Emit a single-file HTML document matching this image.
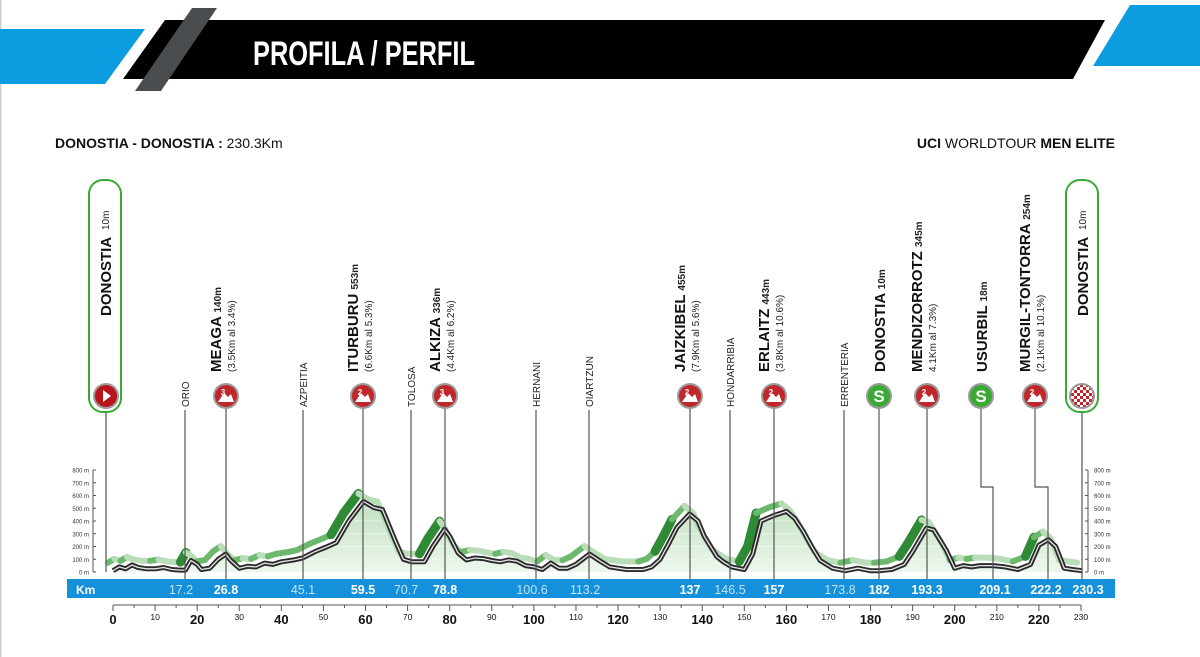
<!DOCTYPE html>
<html><head><meta charset="utf-8"><style>
html,body{margin:0;padding:0;background:#fff;width:1200px;height:657px;overflow:hidden}
svg{display:block}
text{font-family:"Liberation Sans",sans-serif}
.n{font-weight:bold;font-size:15px;fill:#111}
.s{font-size:10px;fill:#222}
.t{font-size:10px;fill:#222}
</style></head><body>
<svg id="c" width="1200" height="657" viewBox="0 0 1200 657" xmlns="http://www.w3.org/2000/svg">
<defs>
<linearGradient id="gf" x1="0" y1="0" x2="0" y2="1"><stop offset="0" stop-color="#bfe0bf"/><stop offset="1" stop-color="#eef7ee"/></linearGradient>
<pattern id="chk" width="6" height="6" patternUnits="userSpaceOnUse"><rect width="6" height="6" fill="#fff"/><rect width="3" height="3" fill="#c0272d"/><rect x="3" y="3" width="3" height="3" fill="#c0272d"/></pattern>
</defs>
<rect x="0" y="0" width="1.5" height="657" fill="#d0d0d0"/>
<polygon points="0,29 145,29 105,84 0,84" fill="#0b9de0"/>
<polygon points="165,20 1105,20 1073,79 123,79" fill="#000"/>
<polygon points="192,8 217,8 161,91 135,91" fill="#4a4d50"/>
<polygon points="1130,5 1200,5 1200,66 1093,66" fill="#0b9de0"/>
<text x="253" y="65" fill="#fff" font-size="34" font-weight="bold" textLength="222" lengthAdjust="spacingAndGlyphs">PROFILA / PERFIL</text>
<text x="55" y="148" font-size="14" fill="#111"><tspan font-weight="bold">DONOSTIA - DONOSTIA :</tspan> 230.3Km</text>
<text x="1115" y="148" font-size="14" fill="#111" text-anchor="end"><tspan font-weight="bold">UCI</tspan> WORLDTOUR <tspan font-weight="bold">MEN ELITE</tspan></text>

<g id="axes" stroke="#555" stroke-width="1"></g>
<g id="prof"></g>

<g stroke="#555" stroke-width="1.2" fill="none">
<line x1="106" y1="412" x2="106" y2="572"/>
<line x1="185" y1="410" x2="185" y2="579"/>
<line x1="226" y1="409" x2="226" y2="579"/>
<line x1="303" y1="410" x2="303" y2="579"/>
<line x1="363" y1="409" x2="363" y2="579"/>
<line x1="411" y1="410" x2="411" y2="579"/>
<line x1="445" y1="409" x2="445" y2="579"/>
<line x1="536" y1="410" x2="536" y2="579"/>
<line x1="589" y1="410" x2="589" y2="579"/>
<line x1="690" y1="409" x2="690" y2="579"/>
<line x1="730" y1="410" x2="730" y2="579"/>
<line x1="774" y1="409" x2="774" y2="579"/>
<line x1="844" y1="410" x2="844" y2="579"/>
<line x1="879" y1="409" x2="879" y2="579"/>
<line x1="927" y1="409" x2="927" y2="579"/>
<polyline points="981,409 981,487 993,487 993,579"/>
<polyline points="1035,409 1035,487 1048,487 1048,579"/>
<line x1="1082" y1="412" x2="1082" y2="579"/>
</g>

<rect x="89" y="180" width="32" height="232" rx="14" fill="#fff" stroke="#3aaa35" stroke-width="2"/>
<rect x="1066" y="180" width="32" height="232" rx="14" fill="#fff" stroke="#3aaa35" stroke-width="2"/>
<g transform="translate(111,316) rotate(-90)"><text class="n" font-size="19" x="0" y="0">DONOSTIA</text></g>
<g transform="translate(109,230) rotate(-90)"><text class="s" x="0" y="0">10m</text></g>
<g transform="translate(1088,316) rotate(-90)"><text class="n" font-size="19" x="0" y="0">DONOSTIA</text></g>
<g transform="translate(1086,230) rotate(-90)"><text class="s" x="0" y="0">10m</text></g>

<g id="mk"></g>

<g transform="translate(189,407) rotate(-90)"><text class="t">ORIO</text></g>
<g transform="translate(307,407) rotate(-90)"><text class="t">AZPEITIA</text></g>
<g transform="translate(415,407) rotate(-90)"><text class="t">TOLOSA</text></g>
<g transform="translate(540,407) rotate(-90)"><text class="t">HERNANI</text></g>
<g transform="translate(593,407) rotate(-90)"><text class="t">OIARTZUN</text></g>
<g transform="translate(734,407) rotate(-90)"><text class="t">HONDARRIBIA</text></g>
<g transform="translate(848,407) rotate(-90)"><text class="t">ERRENTERIA</text></g>

<g transform="translate(221,372) rotate(-90)"><text class="n">MEAGA <tspan class="s">140m</tspan></text><text class="s" y="14">(3.5Km al 3.4%)</text></g>
<g transform="translate(358,372) rotate(-90)"><text class="n">ITURBURU <tspan class="s">553m</tspan></text><text class="s" y="14">(6.6Km al 5.3%)</text></g>
<g transform="translate(440,372) rotate(-90)"><text class="n">ALKIZA <tspan class="s">336m</tspan></text><text class="s" y="14">(4.4Km al 6.2%)</text></g>
<g transform="translate(685,372) rotate(-90)"><text class="n">JAIZKIBEL <tspan class="s">455m</tspan></text><text class="s" y="14">(7.9Km al 5.6%)</text></g>
<g transform="translate(769,372) rotate(-90)"><text class="n">ERLAITZ <tspan class="s">443m</tspan></text><text class="s" y="14">(3.8Km al 10.6%)</text></g>
<g transform="translate(885,372) rotate(-90)"><text class="n">DONOSTIA <tspan class="s">10m</tspan></text></g>
<g transform="translate(922,372) rotate(-90)"><text class="n">MENDIZORROTZ <tspan class="s">345m</tspan></text><text class="s" y="14">4.1Km al 7.3%)</text></g>
<g transform="translate(987,372) rotate(-90)"><text class="n">USURBIL <tspan class="s">18m</tspan></text></g>
<g transform="translate(1030,372) rotate(-90)"><text class="n">MURGIL-TONTORRA <tspan class="s">254m</tspan></text><text class="s" y="14">(2.1Km al 10.1%)</text></g>

<rect x="67" y="579" width="1048" height="19" fill="#1590db"/>
<text x="76" y="594" fill="#fff" font-size="12" font-weight="bold">Km</text>
<g font-size="12.5" text-anchor="middle">
<text x="181" y="594" fill="#bfe3f7">17.2</text>
<text x="226" y="594" fill="#fff" font-weight="bold">26.8</text>
<text x="303" y="594" fill="#bfe3f7">45.1</text>
<text x="363" y="594" fill="#fff" font-weight="bold">59.5</text>
<text x="406" y="594" fill="#bfe3f7">70.7</text>
<text x="445" y="594" fill="#fff" font-weight="bold">78.8</text>
<text x="532" y="594" fill="#bfe3f7">100.6</text>
<text x="585" y="594" fill="#bfe3f7">113.2</text>
<text x="690" y="594" fill="#fff" font-weight="bold">137</text>
<text x="730" y="594" fill="#bfe3f7">146.5</text>
<text x="774" y="594" fill="#fff" font-weight="bold">157</text>
<text x="840" y="594" fill="#bfe3f7">173.8</text>
<text x="879" y="594" fill="#fff" font-weight="bold">182</text>
<text x="927" y="594" fill="#fff" font-weight="bold">193.3</text>
<text x="995" y="594" fill="#fff" font-weight="bold">209.1</text>
<text x="1046" y="594" fill="#fff" font-weight="bold">222.2</text>
<text x="1088" y="594" fill="#fff" font-weight="bold">230.3</text>
</g>
<g id="xax"></g>
</svg>
<script>
var NS="http://www.w3.org/2000/svg";
function el(p,t,a,txt){var e=document.createElementNS(NS,t);for(var k in a)e.setAttribute(k,a[k]);if(txt!=null)e.textContent=txt;p.appendChild(e);return e;}
function X(k){return 113+k*968/230;}
function Y(m){return 572-m*0.1275;}
var d=[[0,10],[1.5,40],[3,25],[4.5,55],[6,35],[8,25],[10,25],[12,35],[14,20],[16,15],[17.2,15],[18.5,90],[20,60],[21,20],[23,30],[25,100],[26.8,140],[28,90],[30,30],[32,45],[34,40],[36,70],[38,60],[40,80],[43,95],[45,110],[48,160],[51,200],[53,230],[56,400],[59.5,553],[62,505],[64,490],[67,250],[69,100],[71,80],[74,80],[76,200],[78.8,336],[80,280],[82,150],[84,95],[86,110],[88,105],[90,90],[92,80],[94,95],[96,85],[98,50],[100,40],[102,20],[104,70],[106,30],[108,30],[110,60],[113.2,140],[116,80],[118,40],[120,30],[122,20],[126,20],[128,40],[130,100],[132,220],[134,350],[137,455],[139,400],[140.5,280],[142,200],[143.5,120],[145,80],[147,40],[150,20],[152,140],[154,400],[157,443],[160,475],[162,420],[164,320],[166,200],[168,90],[171,30],[174,10],[177,30],[180,10],[182,10],[185,20],[188,60],[190,160],[193.3,345],[195,330],[198,170],[200,30],[202,50],[204,40],[206,50],[209.1,50],[212,40],[215,20],[218,60],[220,210],[222.2,254],[224,200],[226,30],[228,20],[230.3,10]];
var pts=d.map(function(p){return X(p[0]).toFixed(1)+","+Y(p[1]).toFixed(1)});
var g=document.getElementById("prof");
el(g,"polygon",{points:X(0)+",572 "+pts.join(" ")+" "+X(230.3)+",572",fill:"url(#gf)"});
for(var i=1;i<8;i++)el(g,"line",{x1:113,x2:1081,y1:Y(i*100),y2:Y(i*100),stroke:"#fff","stroke-opacity":"0.5"});
// shifted band, colored by slope
for(var i=1;i<d.length;i++){
 var a=d[i-1],b=d[i],sl=(b[1]-a[1])/(b[0]-a[0]);
 var col=sl>40?"#2f8a35":(sl>0?"#6cb86c":"#b9dcb9");
 el(g,"line",{x1:X(a[0])-5,y1:Y(a[1])-8,x2:X(b[0])-5,y2:Y(b[1])-8,stroke:col,"stroke-width":sl>40?9:6,"stroke-linecap":"round"});
}
el(g,"polyline",{points:pts.join(" "),fill:"none",stroke:"#2a2a2a","stroke-width":"5","stroke-linejoin":"round"});
el(g,"polyline",{points:pts.join(" "),fill:"none",stroke:"#e6e6e6","stroke-width":"1.3","stroke-linejoin":"round"});
var ax=document.getElementById("axes");
[[93,"end"],[1088,"start"]].forEach(function(s){
 el(ax,"line",{x1:s[0],x2:s[0],y1:470,y2:572});
 for(var i=0;i<=8;i++){var y=Y(i*100);el(ax,"line",{x1:s[0],x2:s[0]+(s[1]=="end"?3:-3),y1:y,y2:y});
 el(ax,"text",{x:s[1]=="end"?s[0]-4:s[0]+6,y:y+2.5,"font-size":"6","text-anchor":s[1]=="end"?"end":"start",fill:"#333",stroke:"none"},(i*100)+" m");}
});
var xa=document.getElementById("xax");
el(xa,"line",{x1:113,x2:1081,y1:605,y2:605,stroke:"#555"});
for(var k=0;k<=230;k+=5){var x=X(k);el(xa,"line",{x1:x,x2:x,y1:605,y2:k%10==0?611:608,stroke:"#555"});
 if(k%10==0){var bb=k%20==0;el(xa,"text",{x:x,y:bb?624:620,"text-anchor":"middle","font-size":bb?"13":"8.5","font-weight":bb?"bold":"normal",fill:"#111"},""+k);}}
var mk=document.getElementById("mk");
function mark(x,type,lab){var y=396;el(mk,"circle",{cx:x,cy:y,r:13,fill:"#9a9a9a"});
 if(type=="s"){el(mk,"circle",{cx:x,cy:y,r:11,fill:"#3aaa35"});el(mk,"text",{x:x,y:y+6,"text-anchor":"middle","font-size":"17","font-weight":"bold",fill:"#fff"},"S");}
 else if(type=="start"){el(mk,"circle",{cx:x,cy:y,r:11,fill:"#b8141b"});el(mk,"polygon",{points:(x-3)+","+(y-6)+" "+(x+5)+","+y+" "+(x-3)+","+(y+6),fill:"#fff"});}
 else if(type=="fin"){el(mk,"circle",{cx:x,cy:y,r:11,fill:"url(#chk)"});}
 else {el(mk,"circle",{cx:x,cy:y,r:11,fill:"#c0272d"});el(mk,"polygon",{points:(x-8)+","+(y+6)+" "+(x-2)+","+(y-3)+" "+(x+2)+","+(y+1)+" "+(x+5)+","+(y-2)+" "+(x+8)+","+(y+6),fill:"#fff"});el(mk,"text",{x:x-3,y:y-1,"text-anchor":"middle","font-size":"8","font-weight":"bold",fill:"#fff"},lab);}
}
mark(106,"start");mark(226,"c","3");mark(363,"c","2");mark(445,"c","3");mark(690,"c","2");mark(774,"c","2");
mark(879,"s");mark(927,"c","2");mark(981,"s");mark(1035,"c","2");mark(1082,"fin");
</script>
</body></html>
